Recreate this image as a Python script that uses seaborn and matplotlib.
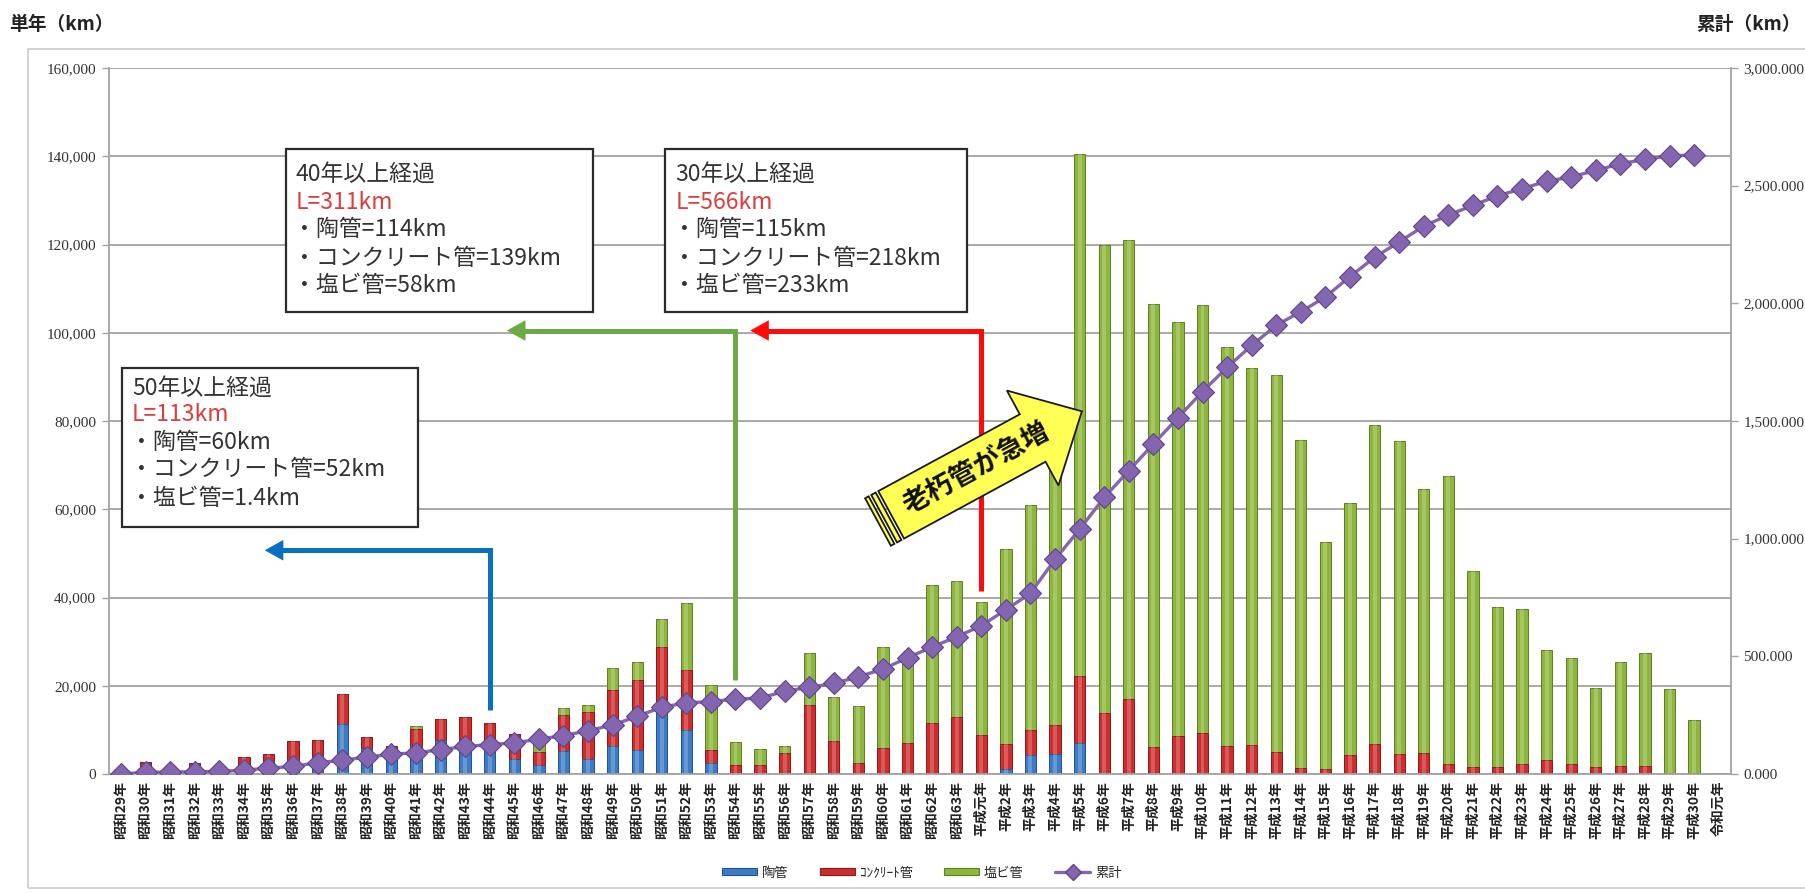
import numpy as np
import matplotlib
matplotlib.use("Agg")
import matplotlib.pyplot as plt
import seaborn as sns
from matplotlib.patches import Polygon, Rectangle, Patch
from matplotlib.lines import Line2D
from matplotlib.ticker import FuncFormatter

# ---- data -------------------------------------------------------------
years = [
    "昭和29年", "昭和30年", "昭和31年", "昭和32年", "昭和33年", "昭和34年", "昭和35年",
    "昭和36年", "昭和37年", "昭和38年", "昭和39年", "昭和40年", "昭和41年", "昭和42年",
    "昭和43年", "昭和44年", "昭和45年", "昭和46年", "昭和47年", "昭和48年", "昭和49年",
    "昭和50年", "昭和51年", "昭和52年", "昭和53年", "昭和54年", "昭和55年", "昭和56年",
    "昭和57年", "昭和58年", "昭和59年", "昭和60年", "昭和61年", "昭和62年", "昭和63年",
    "平成元年", "平成2年", "平成3年", "平成4年", "平成5年", "平成6年", "平成7年",
    "平成8年", "平成9年", "平成10年", "平成11年", "平成12年", "平成13年", "平成14年",
    "平成15年", "平成16年", "平成17年", "平成18年", "平成19年", "平成20年", "平成21年",
    "平成22年", "平成23年", "平成24年", "平成25年", "平成26年", "平成27年", "平成28年",
    "平成29年", "平成30年", "令和元年",
]

# single-year lengths per pipe material (left axis)
toukan = [
    300, 800, 600, 700, 600, 1000, 1000, 1500, 4000, 11300,
    5900, 5700, 6300, 7800, 7000, 5500, 3300, 2000, 5300, 3400,
    6300, 5500, 15000, 10000, 2600, 0, 0, 0, 0, 0,
    0, 0, 0, 0, 0, 0, 1100, 4300, 4600, 7100,
    0, 0, 0, 0, 0, 0, 0, 0, 0, 0,
    0, 0, 0, 0, 0, 0, 0, 0, 0, 0,
    0, 0, 0, 0, 0, 0,
]
concrete = [
    200, 2000, 0, 1800, 0, 2850, 3600, 6000, 3600, 6900,
    2500, 600, 3900, 4700, 6000, 6000, 5800, 2900, 8100, 10600,
    12800, 15900, 13800, 13600, 2800, 2000, 2000, 4700, 15600, 7500,
    2600, 5800, 7100, 11500, 13000, 8800, 5700, 5700, 6400, 15000,
    13800, 16900, 6200, 8600, 9300, 6400, 6500, 5000, 1400, 1100,
    4300, 6800, 4500, 4800, 2300, 1500, 1500, 2300, 3100, 2300,
    1600, 1800, 1800, 200, 200, 0,
]
enbi = [
    0, 0, 0, 0, 0, 0, 0, 0, 0, 0,
    0, 0, 600, 0, 0, 0, 0, 3000, 1500, 1700,
    4900, 3900, 6400, 15200, 14700, 5300, 3600, 1600, 11900, 10000,
    12700, 22900, 18400, 31300, 30700, 30200, 44300, 51000, 58000, 118400,
    106000, 104100, 100300, 93800, 96900, 90300, 85400, 85500, 74300, 51500,
    57100, 72400, 70900, 59700, 65200, 44600, 36400, 35100, 25100, 24100,
    17900, 23600, 25600, 19000, 12000, 300,
]

# running total in km (right axis), 昭和29年 .. 平成30年
cumulative = [
    0.3, 7, 8, 10, 11, 16, 25, 32, 48, 58,
    72, 84, 90, 103, 117, 125, 132, 148, 163, 184,
    208, 245, 284, 302, 308, 318, 322, 352, 368, 385,
    413, 446, 494, 540, 583, 630, 698, 768, 912, 1040,
    1175, 1289, 1402, 1514, 1625, 1728, 1821, 1907, 1964, 2027,
    2114, 2195, 2261, 2328, 2375, 2416, 2457, 2487, 2519, 2537,
    2565, 2593, 2612, 2627, 2630,
]

legend_labels = ["陶管", "ｺﾝｸﾘｰﾄ管", "塩ビ管", "累計"]

# ---- style ------------------------------------------------------------
sns.set_style("white")
plt.rcParams["font.family"] = ["Noto Sans CJK JP", "DejaVu Sans"]

C_BLUE, E_BLUE = "#3C7CC6", "#23548F"
C_RED, E_RED = "#CC2E2E", "#8E1A1A"
C_GREEN, E_GREEN = "#8DB63C", "#5E7E22"
C_PURPLE, C_PURPLE_DK = "#8466B0", "#5E4488"
GRID = "#a3a3a3"

W, H = 1805, 893
fig = plt.figure(figsize=(W / 100, H / 100), dpi=100)
fig.patch.set_facecolor("white")


def px(x, y):
    """pixel position measured from the top-left corner -> figure fraction"""
    return (x / W, 1 - y / H)


ax = fig.add_axes([108.7 / W, 1 - 774 / H, (1731 - 108.7) / W, (774 - 68) / H])
ax.set_facecolor("none")

blue_arr = np.array(toukan)
red_arr = np.array(concrete)
green_arr = np.array(enbi)
stack_top = blue_arr + red_arr + green_arr
stack_mid = blue_arr + red_arr

bar_kw = dict(width=0.46, saturation=1, errorbar=None, linewidth=0.7, ax=ax)
sns.barplot(x=years, y=stack_top, color=C_GREEN, edgecolor=E_GREEN, **bar_kw)
sns.barplot(x=years, y=stack_mid, color=C_RED, edgecolor=E_RED, **bar_kw)
sns.barplot(x=years, y=blue_arr, color=C_BLUE, edgecolor=E_BLUE, **bar_kw)
# soft highlight down the middle of each column (bevelled look)
sns.barplot(x=years, y=stack_top, color="white", width=0.16, saturation=1,
            errorbar=None, linewidth=0, alpha=0.22, ax=ax)

ax.set_ylim(0, 160000)
ax.set_xlim(-0.5, len(years) - 0.5)
ax.set_yticks(np.arange(0, 160001, 20000))
ax.yaxis.set_major_formatter(FuncFormatter(lambda v, p: f"{int(v):,}"))
ax.grid(axis="y", color=GRID, lw=1.3)
ax.set_axisbelow(True)
ax.set_xlabel("")
ax.set_ylabel("")

ax.set_xticks(range(len(years)))
ax.set_xticklabels(years, rotation=90, fontsize=10, fontweight="bold", color="#222222")
ax.set_xticks(np.arange(-0.5, len(years), 1.0), minor=True)
ax.tick_params(axis="x", which="major", length=0, pad=5)
ax.tick_params(axis="x", which="minor", length=4, color=GRID, width=1)
ax.tick_params(axis="y", length=5, color=GRID, width=1, labelsize=11,
               labelcolor="#333333", labelfontfamily="Liberation Serif", pad=4)

for side in ["top", "right"]:
    ax.spines[side].set_visible(False)
for side in ["left", "bottom"]:
    ax.spines[side].set_color(GRID)
    ax.spines[side].set_linewidth(1.3)

# cumulative line on the secondary axis
ax2 = ax.twinx()
sns.lineplot(x=np.arange(len(cumulative)), y=cumulative, ax=ax2, color=C_PURPLE,
             lw=2.4, marker="D", markersize=11, markerfacecolor=C_PURPLE,
             markeredgecolor=C_PURPLE_DK, markeredgewidth=0.8, zorder=5)
ax2.set_ylim(0, 3000)
ax2.set_xlim(-0.5, len(years) - 0.5)
ax2.set_yticks(np.arange(0, 3001, 500))
ax2.yaxis.set_major_formatter(FuncFormatter(lambda v, p: f"{v:,.3f}"))
ax2.tick_params(axis="y", length=5, color=GRID, width=1, labelsize=11,
                labelcolor="#333333", labelfontfamily="Liberation Serif", pad=4)
ax2.set_ylabel("")
for side in ["top", "left", "bottom"]:
    ax2.spines[side].set_visible(False)
ax2.spines["right"].set_color(GRID)
ax2.spines["right"].set_linewidth(1.3)

# ---- elapsed-years callouts -------------------------------------------
def elbow(xv, y_bottom, y_top, x_tip, color):
    ax2.plot([xv, xv, x_tip + 0.6], [y_bottom, y_top, y_top],
             transform=ax.transData, color=color, lw=3.6,
             solid_joinstyle="miter", solid_capstyle="butt", zorder=8)
    ax2.annotate("", xy=(x_tip, y_top), xytext=(x_tip + 1.2, y_top),
                 xycoords=ax.transData, textcoords=ax.transData,
                 arrowprops=dict(arrowstyle="-|>,head_length=0.9,head_width=0.5",
                                 color=color, lw=0.5, mutation_scale=14,
                                 shrinkA=0, shrinkB=0), zorder=8)


elbow(15, 14400, 50700, 5.85, "#0A6FC2")
elbow(25, 21400, 100500, 15.7, "#6DAA45")
elbow(35, 41500, 100500, 25.6, "#FF0A0A")

boxes = [
    (0.05, 12.1, 55900, 91900, 0.45,
     [87470, 81460, 75200, 68930, 62400],
     ["50年以上経過", "L=113km", "・陶管=60km", "・コンクリート管=52km", "・塩ビ管=1.4km"]),
    (6.7, 19.2, 104800, 141600, 7.1,
     [135900, 129600, 123300, 116900, 110600],
     ["40年以上経過", "L=311km", "・陶管=114km", "・コンクリート管=139km", "・塩ビ管=58km"]),
    (22.15, 34.4, 104800, 141600, 22.55,
     [135900, 129600, 123300, 116900, 110600],
     ["30年以上経過", "L=566km", "・陶管=115km", "・コンクリート管=218km", "・塩ビ管=233km"]),
]
for x0, x1, y0, y1, tx, ys, lines in boxes:
    ax2.add_patch(Rectangle((x0, y0), x1 - x0, y1 - y0, transform=ax.transData,
                            facecolor="white", edgecolor="#2b2b2b", lw=1.6, zorder=9))
    for i, (yy, s) in enumerate(zip(ys, lines)):
        color = "#E03C3C" if i == 1 else "#333333"
        xx = tx if i < 2 else tx - 0.1
        ax2.text(xx, yy, s, transform=ax.transData, fontsize=16.5, color=color,
                 ha="left", va="center", zorder=10)

# ---- striped block arrow --------------------------------------------
theta = np.deg2rad(28.5)
u = np.array([np.cos(theta), -np.sin(theta)])
n = np.array([-np.sin(theta), -np.cos(theta)])
tail = np.array([878.0, 522.0])
L, head_len, half_body, half_head = 232.0, 56.0, 27.0, 54.0


def along(a, b):
    p = tail + a * u + b * n
    return px(p[0], p[1])


arrow_style = dict(facecolor="#FFFF55", edgecolor="#1a1a1a", lw=1.3,
                   transform=fig.transFigure, zorder=20)
for a0, a1 in [(0, 4), (7, 12)]:
    fig.add_artist(Polygon([along(a0, half_body), along(a1, half_body),
                            along(a1, -half_body), along(a0, -half_body)],
                           closed=True, **arrow_style))
b = L - head_len
fig.add_artist(Polygon([along(15, half_body), along(b, half_body), along(b, half_head),
                        along(L, 0), along(b, -half_head), along(b, -half_body),
                        along(15, -half_body)], closed=True, **arrow_style))
cx, cy = along(112, 0)
fig.text(cx, cy, "老朽管が急増", rotation=28.5, rotation_mode="anchor",
         ha="center", va="center", fontsize=19.5, fontweight="bold",
         color="#111111", zorder=21)

# ---- axis titles, legend, frame ---------------------------------------
fig.text(*px(9, 25), "単年（km）", ha="left", va="center", fontsize=13.5,
         fontweight="bold", color="#222222")
fig.text(*px(1801, 25), "累計（km）", ha="right", va="center", fontsize=13.5,
         fontweight="bold", color="#222222")

handles = [
    Patch(facecolor=C_BLUE, edgecolor=E_BLUE, lw=0.8),
    Patch(facecolor=C_RED, edgecolor=E_RED, lw=0.8),
    Patch(facecolor=C_GREEN, edgecolor=E_GREEN, lw=0.8),
    Line2D([0], [0], color=C_PURPLE, lw=2.4, marker="D", markersize=8,
           markerfacecolor=C_PURPLE, markeredgecolor=C_PURPLE_DK),
]
fig.legend(handles, legend_labels, loc="center", bbox_to_anchor=px(922, 873),
           ncol=4, frameon=False, fontsize=9.5, handlelength=2.6,
           handleheight=0.45, columnspacing=2.4, handletextpad=0.4)

fig.add_artist(Rectangle(px(28, 888), (W + 20 - 28) / W, (888 - 49) / H,
                         transform=fig.transFigure, fill=False,
                         edgecolor="#cfcfcf", lw=1.3))

fig.savefig("out.png", dpi=100)
